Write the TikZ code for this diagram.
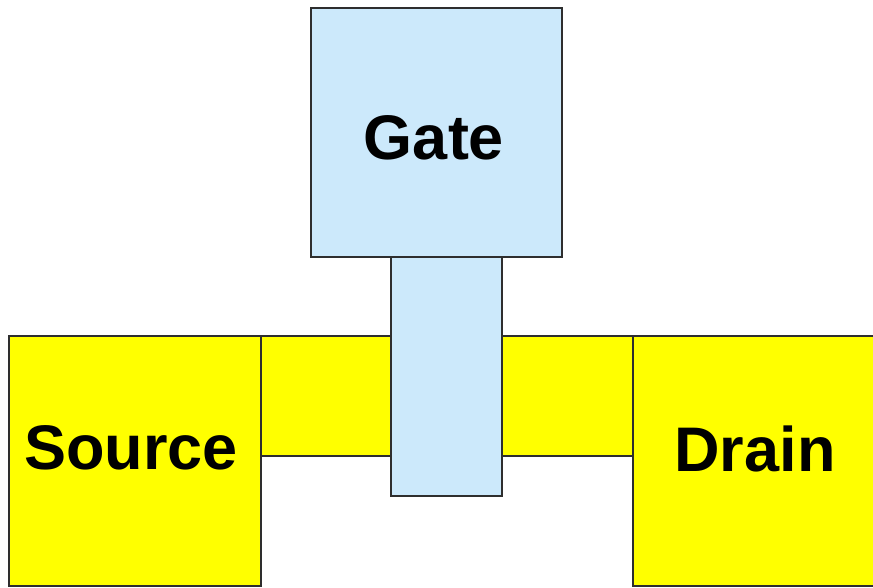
\documentclass[tikz,border=0pt]{standalone}
\usepackage{fontspec}
\setmainfont{Liberation Sans}
\definecolor{gateblue}{HTML}{CCE9FB}
\definecolor{sdyellow}{HTML}{FFFF00}
\definecolor{edge}{HTML}{2E2E2E}
\begin{document}
\begin{tikzpicture}[x=1pt,y=1pt,
  region/.style={draw=edge,line width=1.3pt,inner sep=0pt,outer sep=0pt},
  poly/.style={region,fill=gateblue},
  doped/.style={region,fill=sdyellow},
  tag/.style={font=\bfseries\fontsize{63}{63}\selectfont,anchor=base,inner sep=0pt}]
\useasboundingbox (0,0) rectangle (873,588);
\clip (0,0) rectangle (873,588);
% channel region between source and drain
\path[doped] (261,132) rectangle (633,252);
% source and drain wells
\node[doped,minimum width=252pt,minimum height=250pt] (source) at (135,127) {};
\node[doped,minimum width=247pt,minimum height=250pt] (drain) at (756.5,127) {};
% gate stem over the channel and gate pad
\node[poly,minimum width=111pt,minimum height=239pt] (stem) at (446.5,211.5) {};
\node[poly,minimum width=251pt,minimum height=249pt] (gate) at (436.5,455.5) {};
% labels
\node[tag] (gatetxt) at (434,428) {Gate};
\node[tag] (sourcetxt) at (131,118) {Source};
\node[tag] (draintxt) at (755,116) {Drain};
\end{tikzpicture}
\end{document}
